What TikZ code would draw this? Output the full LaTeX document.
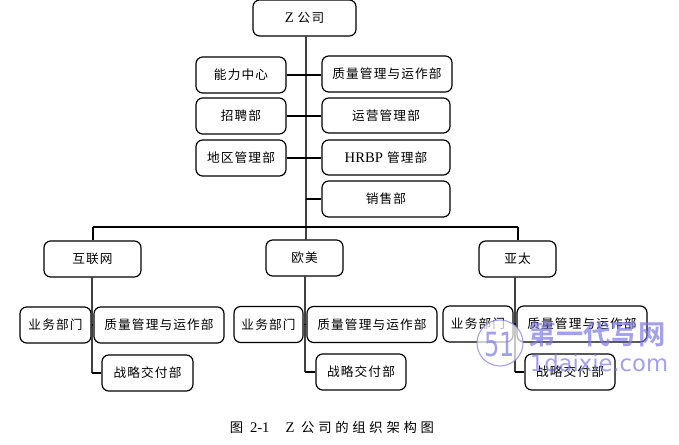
\documentclass[tikz,border=0pt]{standalone}
\usepackage{fontspec}
\setmainfont{Liberation Serif}
\newfontfamily\cjk{Noto Sans CJK SC}[LetterSpace=9]
\newfontfamily\cjkcap{Noto Sans CJK SC}[LetterSpace=28]
\newfontfamily\cjkwm{Noto Sans CJK SC Bold}
\newfontfamily\wmlat{DejaVu Sans}
\definecolor{wmblue}{HTML}{7C78E6}
\tikzset{
  orgbox/.style={draw=black,line width=0.9pt,rounded corners=5pt,fill=white,inner sep=0pt,font=\fontsize{9.5}{11}\selectfont\cjk,align=center},
  thickline/.style={line width=1.3pt,black},
  trunkline/.style={line width=0.9pt,black!75},
  wmark/.style={inner sep=0pt,text=wmblue,text opacity=0.7},
  captext/.style={inner sep=0pt,font=\fontsize{10}{11}\selectfont}
}
\newcommand{\orgnode}[6]{\node[orgbox,minimum width=#4*0.75pt,minimum height=#5*0.75pt] (#1) at (#2,#3) {#6};}
\newcommand{\lat}[1]{{\fontsize{11}{11}\selectfont\rmfamily #1}}
\begin{document}
\begin{tikzpicture}[x=0.75pt,y=-0.75pt]
\useasboundingbox (0,0) rectangle (679,445);
% nodes
\orgnode{z}{304.5}{18}{103}{36}{\lat{Z} 公司}
\orgnode{neng}{241}{75}{90}{36}{能力中心}
\orgnode{zhao}{241}{116}{90}{36}{招聘部}
\orgnode{diqu}{241}{158}{90}{36}{地区管理部}
\orgnode{zl}{387}{74}{130}{36}{质量管理与运作部}
\orgnode{yy}{386}{115.5}{128}{35}{运营管理部}
\orgnode{hr}{386}{157.5}{128}{35}{\lat{HRBP} 管理部}
\orgnode{xs}{386}{199}{128}{36}{销售部}
\orgnode{hlw}{92.5}{259}{97}{36}{互联网}
\orgnode{om}{304.5}{258}{77}{36}{欧美}
\orgnode{yt}{517.5}{259}{77}{36}{亚太}
\orgnode{ywa}{55.5}{325}{71}{36}{业务部门}
\orgnode{zla}{159}{325}{130}{36}{质量管理与运作部}
\orgnode{zha}{147.5}{373}{91}{36}{战略交付部}
\orgnode{ywb}{268.5}{324.5}{69}{36}{业务部门}
\orgnode{zlb}{372}{324.5}{130}{36}{质量管理与运作部}
\orgnode{zhb}{361}{372}{90}{36}{战略交付部}
\orgnode{ywc}{478}{324}{70}{36}{业务部门}
\orgnode{zlc}{582}{324}{130}{36}{质量管理与运作部}
\orgnode{zhc}{570}{372}{90}{36}{战略交付部}
% free junction points
\coordinate (trunktop) at (306,36);
\coordinate (trunkend) at (306,240);
\coordinate (busL) at (93,227);
\coordinate (busR) at (518,227);
\coordinate (xjoin) at (306,199);
\coordinate (lT) at (92,277);
\coordinate (lJ) at (92,373);
\coordinate (mT) at (305,276);
\coordinate (mJ) at (305,372);
\coordinate (rT) at (515,277);
\coordinate (rJ) at (515,372);
% connectors
\draw[trunkline] (trunktop) -- (trunkend);
\draw[thickline] (busL) -- (busR);
\draw[thickline] (busL) -- (busL |- hlw.north);
\draw[thickline] (busR) -- (busR |- yt.north);
\draw[thickline] (neng.east) -- (neng.east -| zl.west);
\draw[thickline] (zhao.east) -- (zhao.east -| yy.west);
\draw[thickline] (diqu.east) -- (diqu.east -| hr.west);
\draw[thickline] (xjoin) -- (xs.west);
\draw[trunkline] (lT) -- (lJ);
\draw[trunkline] (mT) -- (mJ);
\draw[trunkline,line width=1.2pt] (rT) -- (rJ);
\draw[thickline] (lJ) -- (zha.west);
\draw[thickline] (mJ) -- (zhb.west);
\draw[thickline] (rJ) -- (zhc.west);
\draw[thickline] (ywa.east) -- (zla.west);
\draw[thickline] (ywb.east) -- (zlb.west);
\draw[thickline] (ywc.east) -- (zlc.west);
% caption
\node[captext] (cap) at (332,427) {\cjkcap 图 {\lat{2-1}}\hspace{1.2em}{\lat{Z}} 公司的组织架构图};
% watermark
\fill[white,opacity=0.7] (500,343) circle (23);
\draw[wmblue,line width=0.8pt,opacity=0.7] (500,343) circle (23);
\node[wmark,xscale=0.72,font=\fontsize{25}{26}\selectfont\wmlat] (wmfive) at (500,345) {51};
\node[wmark,font=\fontsize{20.5}{22}\selectfont\cjkwm] (wmcn) at (597,334) {第一代写网};
\node[wmark,font=\fontsize{17}{19}\selectfont\wmlat] (wmen) at (599,363) {1daixie.com};
\end{tikzpicture}
\end{document}
